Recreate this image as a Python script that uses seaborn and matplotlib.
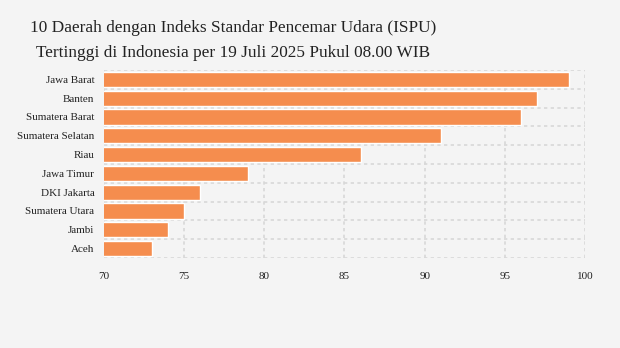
import matplotlib
matplotlib.use("Agg")
import matplotlib.pyplot as plt
import seaborn as sns
import pandas as pd
from matplotlib.ticker import MultipleLocator, FixedLocator

regions = ["Jawa Barat", "Banten", "Sumatera Barat", "Sumatera Selatan", "Riau",
           "Jawa Timur", "DKI Jakarta", "Sumatera Utara", "Jambi", "Aceh"]
ispu = [99, 97, 96, 91, 86, 79, 76, 75, 74, 73]
title = "10 Daerah dengan Indeks Standar Pencemar Udara (ISPU)\nTertinggi di Indonesia per 19 Juli 2025 Pukul 08.00 WIB"

df = pd.DataFrame({"region": regions, "ispu": ispu})

sns.set_theme(style="white")
plt.rcParams["font.family"] = ["Liberation Serif", "DejaVu Serif"]
bg = "#f4f4f4"
fig = plt.figure(figsize=(6.2, 3.48), dpi=100, facecolor=bg)
ax = fig.add_axes([104/620, 1-258/348, (585-104)/620, (258-70)/348])
ax.set_facecolor(bg)

sns.barplot(data=df, y="region", x="ispu", orient="h", color="#f58d4e",
            saturation=1, width=0.8, ax=ax, zorder=3)

ax.set_xlim(70, 100)
ax.set_ylim(len(regions)-0.5, -0.5)
ax.xaxis.set_major_locator(MultipleLocator(5))
ax.yaxis.set_minor_locator(FixedLocator([i - 0.5 for i in range(len(regions)+1)]))
gcol = "#d8d8d8"
ax.grid(True, axis="x", which="major", color=gcol, linestyle=(0, (2, 2)), linewidth=1.2, zorder=0)
ax.grid(True, axis="y", which="minor", color=gcol, linestyle=(0, (2, 2)), linewidth=1.2, zorder=0)
for s in ax.spines.values():
    s.set_visible(False)
ax.set_xlabel("")
ax.set_ylabel("")
ax.tick_params(axis="x", length=0, labelsize=8, colors="#222222", pad=10)
ax.tick_params(axis="y", which="major", length=4, labelsize=8, pad=3)
ax.tick_params(axis="y", which="minor", length=0)
ax.tick_params(axis="y", labelcolor="#222222", color=gcol)

fig.text(233.5/620, 1-40.5/348, title, ha="center", va="center", multialignment="center",
         fontsize=12.4, color="#222222", linespacing=1.68,
         family=["Liberation Serif", "DejaVu Serif"])

fig.savefig("out.png", dpi=100, facecolor=bg)
